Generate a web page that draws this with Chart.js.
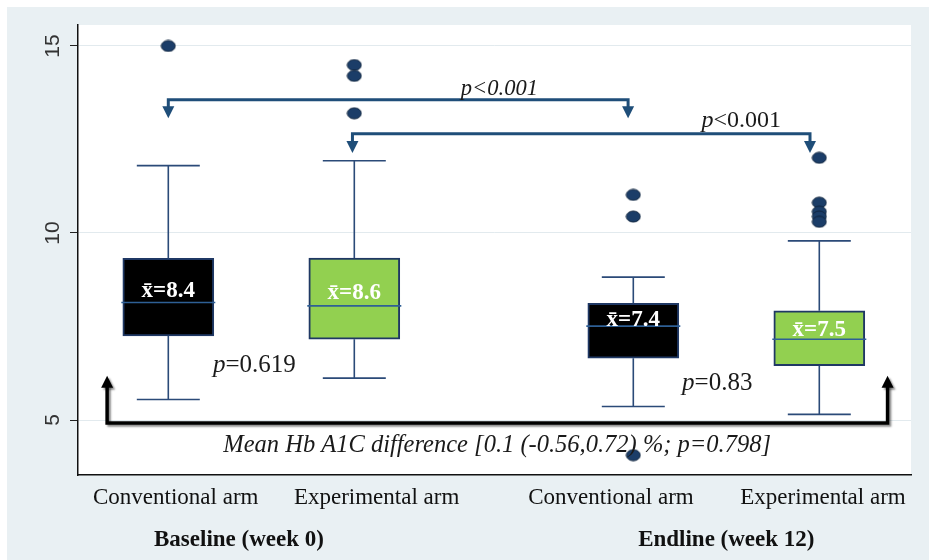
<!DOCTYPE html>
<html>
<head>
<meta charset="utf-8">
<script src="https://cdn.jsdelivr.net/npm/chart.js@4.4.1/dist/chart.umd.min.js"></script>
<style>
  html, body { margin: 0; padding: 0; background: #fff; }
  canvas { display: block; }
</style>
</head>
<body>
<canvas id="chart" width="929" height="560"></canvas>
<script>
'use strict';

// box positions on the x scale and the axis texts
const boxX = [1, 2, 3.5, 4.5];
const armLabels = ['Conventional arm', 'Experimental arm', 'Conventional arm', 'Experimental arm'];
const armLabelX = [1.04, 2.12, 3.38, 4.52];
const groupLabels = ['Baseline (week 0)', 'Endline (week 12)'];
const groupLabelX = [1.38, 4.0];
const yTicks = [5, 10, 15];

// HbA1c (%) box summaries
const whiskerLow = [5.55, 6.12, 5.36, 5.15];
const q1 = [7.25, 7.16, 6.65, 6.45];
const median = [8.14, 8.05, 7.51, 7.16];
const q3 = [9.32, 9.33, 8.12, 7.92];
const whiskerHigh = [11.8, 11.93, 8.82, 9.79];
const meanValue = ['8.4', '8.6', '7.4', '7.5'];
const meanLabelY = [8.45, 8.4, 7.67, 7.41];

const outlierX = [1, 2, 2, 2, 3.5, 3.5, 3.5, 4.5, 4.5, 4.5, 4.5, 4.5];
const outlierY = [15.0, 14.49, 14.2, 13.2, 11.02, 10.44, 4.06, 12.01, 10.81, 10.57, 10.44, 10.3];

const boxColors = ['#000000', '#92d050', '#000000', '#92d050'];

// comparison brackets: [fromX, toX, lineY, arrowTipY]
const brackets = [
    [1, 3.472, 13.56, 13.07],
    [1.99, 4.45, 12.65, 12.14]
];
// the black bracket under the boxes
const diffBracket = [0.671, 4.867, 4.92, 6.18];

const notes = [
    {x: 2.78, y: 13.69, align: 'center', size: 22.5, runs: [['p<0.001', 'italic']]},
    {x: 4.08, y: 12.84, align: 'center', size: 24, runs: [['p', 'italic'], ['<0.001', 'normal']]},
    {x: 1.24, y: 6.29, align: 'left', size: 25, runs: [['p', 'italic'], ['=0.619', 'normal']]},
    {x: 3.762, y: 5.8, align: 'left', size: 25, runs: [['p', 'italic'], ['=0.83', 'normal']]},
    {x: 2.768, y: 4.15, align: 'center', size: 24.5, runs: [['Mean Hb A1C difference [0.1 (-0.56,0.72) %; p=0.798]', 'italic']]}
];

const SERIF = '"Liberation Serif", "Times New Roman", serif';

function _dot() {
    const c = document.createElement('canvas');
    c.width = 16;
    c.height = 13;
    const g = c.getContext('2d');
    g.fillStyle = '#1b3d68';
    g.strokeStyle = '#10253f';
    g.lineWidth = 1;
    g.beginPath();
    g.ellipse(8, 6.5, 7, 5.5, 0, 0, Math.PI * 2);
    g.fill();
    g.stroke();
    return c;
}

function _drawRuns(ctx, runs, x, y, align, size) {
    const fonts = runs.map(r => r[1] + ' ' + size + 'px ' + SERIF);
    let total = 0;
    runs.forEach((r, i) => {
        ctx.font = fonts[i];
        total += ctx.measureText(r[0]).width;
    });
    let cx = align === 'center' ? x - total / 2 : x;
    ctx.textAlign = 'left';
    ctx.textBaseline = 'alphabetic';
    runs.forEach((r, i) => {
        ctx.font = fonts[i];
        ctx.fillText(r[0], cx, y);
        cx += ctx.measureText(r[0]).width;
    });
}

function _arrowHead(ctx, x, tipY, dir) {
    // dir 1 points down, -1 points up
    ctx.beginPath();
    ctx.moveTo(x - 6, tipY - dir * 12);
    ctx.lineTo(x + 6, tipY - dir * 12);
    ctx.lineTo(x, tipY);
    ctx.closePath();
    ctx.fill();
}

const boxPlotPlugin = {
    id: 'boxPlot',
    beforeDraw(chart) {
        const {ctx, chartArea: a} = chart;
        ctx.save();
        ctx.fillStyle = '#ffffff';
        ctx.fillRect(0, 0, chart.width, chart.height);
        ctx.fillStyle = '#e9f0f3';
        ctx.fillRect(7, 7, chart.width - 7, chart.height - 7);
        ctx.fillStyle = '#ffffff';
        ctx.fillRect(a.left, a.top, a.right - a.left, a.bottom - a.top);
        ctx.restore();
    },
    afterDatasetsDraw(chart) {
        const {ctx} = chart;
        const xs = chart.scales.x, ys = chart.scales.y;
        ctx.save();

        // whiskers and medians
        boxX.forEach((bx, i) => {
            const x = xs.getPixelForValue(bx);
            ctx.strokeStyle = '#2b4a78';
            ctx.lineWidth = 1.6;
            ctx.beginPath();
            ctx.moveTo(x, ys.getPixelForValue(q3[i]));
            ctx.lineTo(x, ys.getPixelForValue(whiskerHigh[i]));
            ctx.moveTo(x, ys.getPixelForValue(q1[i]));
            ctx.lineTo(x, ys.getPixelForValue(whiskerLow[i]));
            ctx.moveTo(x - 31.5, ys.getPixelForValue(whiskerHigh[i]));
            ctx.lineTo(x + 31.5, ys.getPixelForValue(whiskerHigh[i]));
            ctx.moveTo(x - 31.5, ys.getPixelForValue(whiskerLow[i]));
            ctx.lineTo(x + 31.5, ys.getPixelForValue(whiskerLow[i]));
            ctx.stroke();

            ctx.strokeStyle = '#2e5f95';
            ctx.lineWidth = 1.6;
            ctx.beginPath();
            ctx.moveTo(x - 47, ys.getPixelForValue(median[i]));
            ctx.lineTo(x + 47, ys.getPixelForValue(median[i]));
            ctx.stroke();

            ctx.fillStyle = '#ffffff';
            ctx.font = 'bold 23px ' + SERIF;
            ctx.textAlign = 'center';
            ctx.textBaseline = 'middle';
            ctx.fillText('x\u0304=' + meanValue[i], x, ys.getPixelForValue(meanLabelY[i]));
        });

        // blue comparison brackets
        ctx.strokeStyle = '#1f4e79';
        ctx.fillStyle = '#1f4e79';
        ctx.lineWidth = 3;
        brackets.forEach(b => {
            const x1 = xs.getPixelForValue(b[0]), x2 = xs.getPixelForValue(b[1]);
            const py = ys.getPixelForValue(b[2]), tip = ys.getPixelForValue(b[3]);
            ctx.beginPath();
            ctx.moveTo(x1, tip - 10);
            ctx.lineTo(x1, py);
            ctx.lineTo(x2, py);
            ctx.lineTo(x2, tip - 10);
            ctx.stroke();
            _arrowHead(ctx, x1, tip, 1);
            _arrowHead(ctx, x2, tip, 1);
        });

        // black bracket with a soft shadow
        ctx.save();
        ctx.shadowColor = 'rgba(0,0,0,0.45)';
        ctx.shadowOffsetX = 2;
        ctx.shadowOffsetY = 2;
        ctx.shadowBlur = 2;
        ctx.strokeStyle = '#000000';
        ctx.fillStyle = '#000000';
        ctx.lineWidth = 3.5;
        const bx1 = xs.getPixelForValue(diffBracket[0]), bx2 = xs.getPixelForValue(diffBracket[1]);
        const by = ys.getPixelForValue(diffBracket[2]), btip = ys.getPixelForValue(diffBracket[3]);
        ctx.beginPath();
        ctx.moveTo(bx1, btip + 10);
        ctx.lineTo(bx1, by);
        ctx.lineTo(bx2, by);
        ctx.lineTo(bx2, btip + 10);
        ctx.stroke();
        _arrowHead(ctx, bx1, btip, -1);
        _arrowHead(ctx, bx2, btip, -1);
        ctx.restore();

        // p-values and the difference note
        ctx.fillStyle = '#1a1a1a';
        notes.forEach(n => {
            _drawRuns(ctx, n.runs, xs.getPixelForValue(n.x), ys.getPixelForValue(n.y), n.align, n.size);
        });

        ctx.restore();
    },
    afterDraw(chart) {
        const {ctx, chartArea: a} = chart;
        const xs = chart.scales.x, ys = chart.scales.y;
        ctx.save();

        // rotated y tick labels
        ctx.fillStyle = '#333333';
        ctx.font = '21px "Liberation Sans", Arial, sans-serif';
        ctx.textAlign = 'center';
        ctx.textBaseline = 'middle';
        ys.ticks.forEach(t => {
            ctx.save();
            ctx.translate(a.left - 25, ys.getPixelForValue(t.value));
            ctx.rotate(-Math.PI / 2);
            ctx.fillText(String(t.value), 0, 0);
            ctx.restore();
        });

        // group labels under the arm labels
        ctx.fillStyle = '#111111';
        ctx.font = 'bold 23px ' + SERIF;
        ctx.textBaseline = 'alphabetic';
        groupLabels.forEach((g, i) => {
            ctx.fillText(g, xs.getPixelForValue(groupLabelX[i]), a.bottom + 71);
        });
        ctx.restore();
    }
};

new Chart(document.getElementById('chart'), {
    type: 'bar',
    data: {
        datasets: [
            {
                type: 'bar',
                data: boxX.map((x, i) => ({x: x, y: [q1[i], q3[i]]})),
                backgroundColor: boxColors,
                borderColor: '#1f3864',
                borderWidth: 2,
                borderSkipped: false,
                barThickness: 91,
                order: 2
            },
            {
                type: 'scatter',
                data: outlierX.map((x, i) => ({x: x, y: outlierY[i]})),
                pointStyle: _dot(),
                pointRadius: 7,
                order: 1
            }
        ]
    },
    options: {
        responsive: false,
        animation: false,
        devicePixelRatio: 1,
        layout: {padding: {left: 0, top: 25, right: 18, bottom: 0}},
        plugins: {legend: {display: false}, tooltip: {enabled: false}},
        scales: {
            x: {
                type: 'linear',
                min: 0.5145,
                max: 4.993,
                offset: false,
                afterBuildTicks: s => { s.ticks = armLabelX.map(v => ({value: v})); },
                afterFit: s => { s.height = 85; },
                grid: {display: false, offset: false},
                border: {display: true, color: '#111111', width: 1.5},
                ticks: {
                    autoSkip: false,
                    maxRotation: 0,
                    minRotation: 0,
                    padding: 1,
                    color: '#111111',
                    font: {family: SERIF, size: 23},
                    callback: (v, i) => armLabels[i]
                }
            },
            y: {
                type: 'linear',
                min: 3.53,
                max: 15.56,
                afterBuildTicks: s => { s.ticks = yTicks.map(v => ({value: v})); },
                afterFit: s => { s.width = 78; },
                grid: {color: '#e2eaee', lineWidth: 1, tickColor: '#222222', tickLength: 8, drawTicks: true},
                border: {color: '#111111', width: 1.5},
                ticks: {display: false}
            }
        }
    },
    plugins: [boxPlotPlugin]
});
</script>
</body>
</html>
